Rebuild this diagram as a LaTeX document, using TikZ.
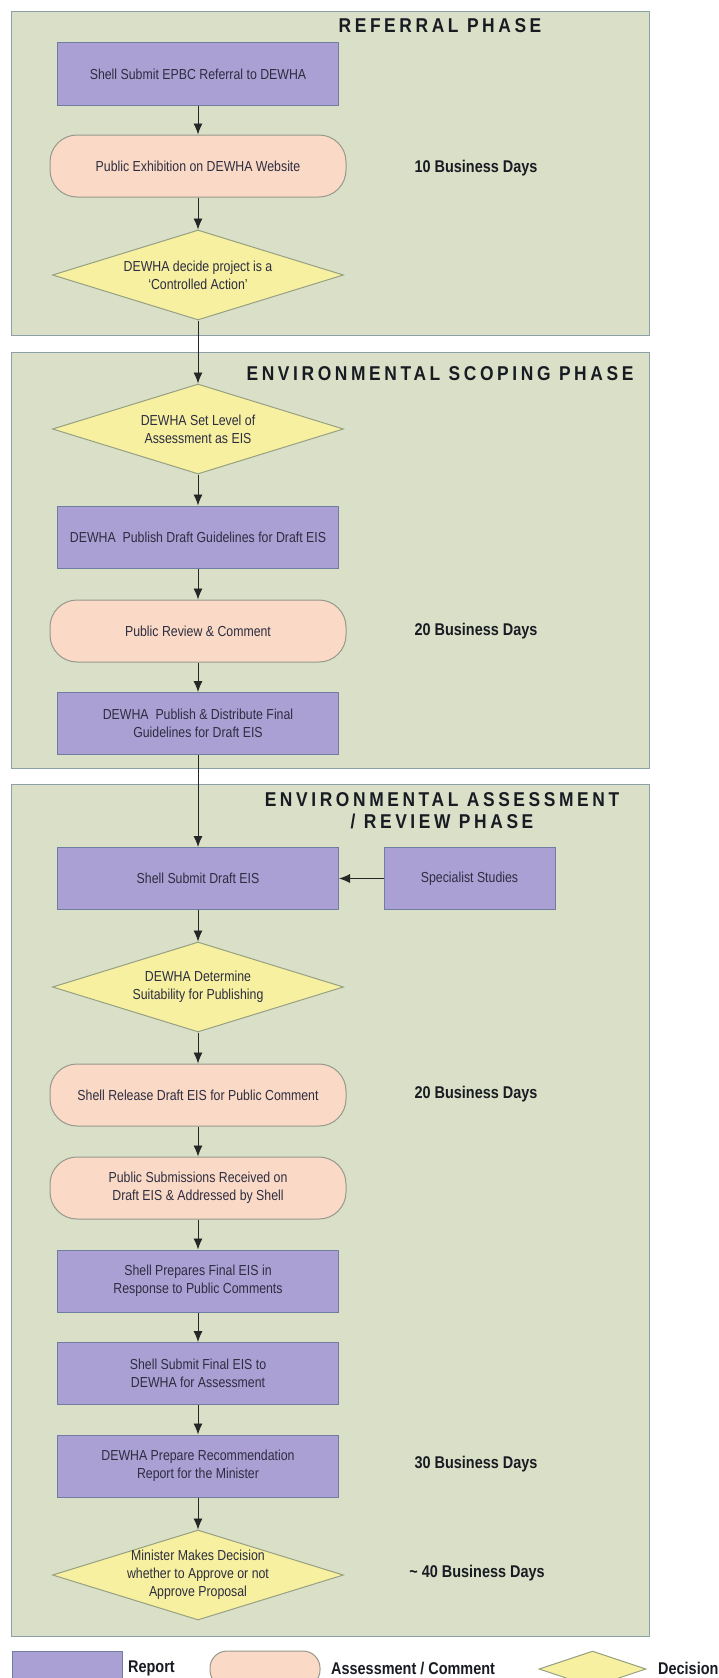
\documentclass[tikz,border=0pt]{standalone}
\usepackage{fontspec}
\setmainfont[FakeStretch=0.85]{Liberation Sans}
\newfontfamily\phasefamily[FakeStretch=0.87,LetterSpace=18]{Liberation Sans}
\usetikzlibrary{shapes.geometric,arrows.meta}
\definecolor{panelfill}{RGB}{218,224,199}
\definecolor{paneldraw}{RGB}{140,160,165}
\definecolor{reportfill}{RGB}{171,160,211}
\definecolor{reportdraw}{RGB}{110,125,160}
\definecolor{assessfill}{RGB}{250,218,198}
\definecolor{assessdraw}{RGB}{150,152,140}
\definecolor{decisionfill}{RGB}{246,240,160}
\definecolor{decisiondraw}{RGB}{150,160,130}
\definecolor{boxtext}{RGB}{45,45,65}
\definecolor{darktext}{RGB}{25,27,35}
\newcommand{\boxfont}{\fontsize{14.5}{18}\selectfont}
\newcommand{\daysfont}{\fontsize{17}{20}\selectfont\bfseries}
\newcommand{\phasefont}{\phasefamily\bfseries\fontsize{20}{22}\selectfont}
\tikzset{
	panel/.style={draw=paneldraw, fill=panelfill, line width=1pt},
	report/.style={rectangle, draw=reportdraw, fill=reportfill, line width=1pt, minimum width=281pt, minimum height=62pt, align=center, font=\boxfont, text=boxtext},
	assess/.style={rectangle, rounded corners=27pt, draw=assessdraw, fill=assessfill, line width=1pt, minimum width=296pt, minimum height=62pt, align=center, font=\boxfont, text=boxtext},
	decision/.style={diamond, aspect=3.23, draw=decisiondraw, fill=decisionfill, line width=1pt, minimum width=291pt, minimum height=90pt, inner sep=-8pt, align=center, font=\boxfont, text=boxtext},
	days/.style={inner sep=0pt, font=\daysfont, text=darktext},
	phase/.style={inner sep=0pt, align=center, font=\phasefont, text=darktext},
	flow/.style={-{Latex[length=11pt,width=9pt]}, draw=black!85, line width=0.9pt}
}
\begin{document}
\begin{tikzpicture}[x=1pt,y=-1pt]
	\clip (0,0) rectangle (719,1678);
	\fill[white] (0,0) rectangle (719,1678);
	\draw[panel] (11.5,12) rectangle (649,335);
	\draw[panel] (11.5,352) rectangle (649,768);
	\draw[panel] (11.5,784) rectangle (649,1636);
	\node[phase] (refphase) at (440,26) {REFERRAL PHASE};
	\node[phase] (scopephase) at (440,374) {ENVIRONMENTAL SCOPING PHASE};
	\node[phase] (assessphase) at (442,811) {ENVIRONMENTAL ASSESSMENT\\/ REVIEW PHASE};
	\node[report] (b1) at (198,74) {Shell Submit EPBC Referral to DEWHA};
	\node[assess] (t1) at (198,166) {Public Exhibition on DEWHA Website};
	\node[decision] (d1) at (198,275) {DEWHA decide project is a\\`Controlled Action'};
	\node[decision] (d2) at (198,429) {DEWHA Set Level of\\Assessment as EIS};
	\node[report] (b2) at (198,537) {DEWHA\ \ Publish Draft Guidelines for Draft EIS};
	\node[assess] (t2) at (198,631) {Public Review \& Comment};
	\node[report] (b3) at (198,723.5) {DEWHA\ \ Publish \& Distribute Final\\Guidelines for Draft EIS};
	\node[report] (b4) at (198,878.5) {Shell Submit Draft EIS};
	\node[report, minimum width=171pt] (spec) at (469.5,878.5) {Specialist Studies};
	\node[decision] (d3) at (198,987) {DEWHA Determine\\Suitability for Publishing};
	\node[assess] (t3) at (198,1095) {Shell Release Draft EIS for Public Comment};
	\node[assess] (t4) at (198,1188) {Public Submissions Received on\\Draft EIS \& Addressed by Shell};
	\node[report] (b5) at (198,1281) {Shell Prepares Final EIS in\\Response to Public Comments};
	\node[report] (b6) at (198,1373.5) {Shell Submit Final EIS to\\DEWHA for Assessment};
	\node[report] (b7) at (198,1466) {DEWHA Prepare Recommendation\\Report for the Minister};
	\node[decision] (d4) at (198,1575) {Minister Makes Decision\\whether to Approve or not\\Approve Proposal};
	\node[days] (days1) at (476,168) {10 Business Days};
	\node[days] (days2) at (476,631) {20 Business Days};
	\node[days] (days3) at (476,1094) {20 Business Days};
	\node[days] (days4) at (476,1464) {30 Business Days};
	\node[days] (days5) at (477,1573) {\textasciitilde{} 40 Business Days};
	\foreach \a/\b in {b1/t1,t1/d1,d1/d2,d2/b2,b2/t2,t2/b3,b3/b4,b4/d3,d3/t3,t3/t4,t4/b5,b5/b6,b6/b7,b7/d4}
		\draw[flow] (\a) -- (\b);
	\draw[flow] (spec) -- (b4);
	\node[report, minimum width=110pt, minimum height=36pt] (legreport) at (67,1669) {};
	\node[assess, minimum width=110pt, minimum height=36pt, rounded corners=17pt] (legassess) at (265,1669) {};
	\node[decision, minimum width=107pt, minimum height=36pt] (legdecision) at (592.5,1669) {};
	\node[days, anchor=west] (legreporttext) at (128,1668) {Report};
	\node[days, anchor=west] (legassesstext) at (331,1668) {Assessment / Comment};
	\node[days, anchor=west] (legdecisiontext) at (658,1668) {Decision};
\end{tikzpicture}
\end{document}
